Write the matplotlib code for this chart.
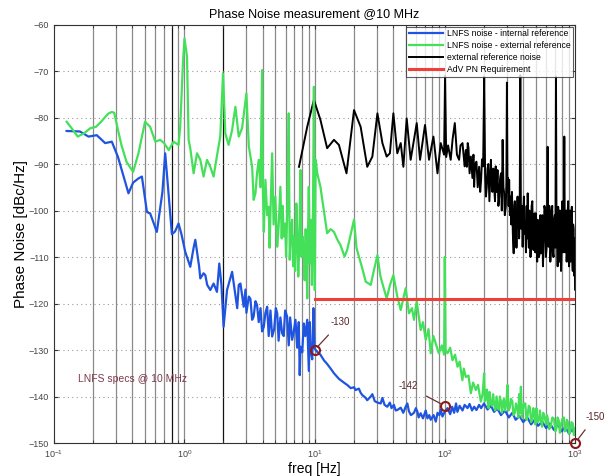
import numpy as np
import matplotlib
matplotlib.use("Agg")
import matplotlib.pyplot as plt
from matplotlib.ticker import LogLocator, LogFormatterSciNotation, MultipleLocator

plt.rcParams["font.family"] = ["Liberation Sans", "DejaVu Sans"]

# LNFS noise - internal reference (blue)
blue_f = [0.125, 0.158, 0.184, 0.213, 0.247, 0.278, 0.31, 0.345, 0.373, 0.405,
          0.445, 0.473, 0.517, 0.531, 0.547, 0.616, 0.68, 0.714, 0.76, 0.804,
          0.85, 0.904, 0.95, 1.018, 1.08, 1.112, 1.18, 1.216, 1.3, 1.328,
          1.407, 1.451, 1.5, 1.585, 1.68, 1.783, 1.857, 1.93, 2.005, 2.13,
          2.33, 2.47, 2.55, 2.62, 2.7, 2.86, 2.95, 3.0, 3.13, 3.22,
          3.32, 3.41, 3.52, 3.62, 3.73, 3.85, 3.96, 4.08, 4.2, 4.33,
          4.45, 4.59, 4.73, 4.9, 5.05, 5.17, 5.3, 5.47, 5.64, 5.8,
          5.95, 6.16, 6.34, 6.5, 6.73, 6.93, 7.14, 7.36, 7.57, 7.7,
          7.8, 8.05, 8.27, 8.5, 8.79, 9.04, 9.2, 9.31, 9.6, 9.8,
          10.0, 10.2, 10.5, 11.1, 11.8, 12.5, 13.3, 14.1, 15.4, 16.8,
          17.8, 19.0, 20.1, 20.7, 21.9, 22.6, 23.3, 24.7, 25.4, 27.0,
          27.8, 29.0, 30.4, 32.2, 33.2, 34.5, 36.2, 37.9, 39.0, 40.7,
          42.0, 43.2, 45.9, 48.0, 50.1, 51.6, 53.1, 55.0, 58.0, 60.0,
          61.7, 63.0, 65.3, 68.0, 71.4, 73.6, 76.0, 78.0, 82.0, 85.3,
          88.0, 91.0, 93.1, 96.0, 100.0, 104.9, 110.0, 114.0, 118.0, 122.0,
          125.0, 130.0, 136.8, 142.0, 149.6, 155.0, 162.0, 168.0, 175.0, 183.5,
          190.0, 200.0, 213.0, 226.0, 239.0, 254.0, 270.0, 290.0, 310.0, 330.0,
          350.0, 375.0, 400.0, 430.0, 460.0, 490.0, 520.0, 560.0, 600.0, 640.0,
          690.0, 740.0, 790.0, 840.0, 900.0, 950.0, 1000.0]
blue_db = [-82.9, -83.0, -84.1, -83.8, -85.5, -85.2, -88.5, -93.0, -96.3, -94.0,
           -93.1, -92.7, -100.3, -100.5, -100.6, -104.6, -96.0, -87.7, -97.0, -105.1,
           -104.5, -102.8, -105.0, -108.9, -111.0, -112.1, -108.0, -106.3, -112.0, -114.6,
           -113.5, -113.9, -116.0, -117.1, -115.7, -117.5, -111.4, -116.0, -125.0, -117.1,
           -113.2, -118.2, -121.0, -116.0, -115.7, -120.7, -117.0, -122.0, -118.5, -119.0,
           -123.5, -122.8, -119.5, -120.3, -124.0, -121.0, -126.0, -125.0, -122.0, -120.7,
           -127.0, -121.5, -127.1, -125.5, -121.0, -122.1, -128.0, -123.0, -126.4, -127.0,
           -121.5, -122.8, -129.0, -123.0, -127.8, -126.0, -123.5, -129.5, -124.0, -135.4,
           -129.3, -130.5, -124.3, -127.0, -123.5, -134.5, -124.0, -130.0, -132.0, -121.0,
           -129.6, -130.0, -130.4, -131.0, -132.2, -133.0, -134.0, -135.0, -136.2, -137.0,
           -137.5, -138.2, -138.0, -138.6, -138.3, -139.2, -139.7, -140.3, -140.8, -140.0,
           -139.5, -141.0, -141.3, -141.5, -140.3, -141.8, -142.2, -141.3, -142.5, -141.8,
           -143.0, -142.9, -142.4, -143.5, -142.2, -141.5, -143.2, -144.0, -143.5, -142.5,
           -143.3, -144.5, -143.6, -144.7, -143.0, -144.7, -144.0, -145.0, -144.0, -145.4,
           -143.5, -144.0, -142.8, -144.3, -143.3, -142.5, -143.8, -142.2, -143.5, -141.5,
           -143.3, -142.0, -143.0, -141.8, -142.5, -141.6, -143.0, -142.2, -142.9, -141.8,
           -142.5, -141.5, -142.8, -142.0, -143.3, -142.6, -144.0, -143.0, -144.5, -143.5,
           -145.0, -144.2, -145.5, -144.5, -146.0, -145.0, -146.3, -145.4, -146.8, -145.8,
           -147.2, -146.0, -147.5, -146.5, -148.0, -147.0, -148.2]

# LNFS noise - external reference (green)
green_f = [0.125, 0.14, 0.152, 0.17, 0.19, 0.21, 0.23, 0.26, 0.278, 0.29,
           0.31, 0.33, 0.36, 0.405, 0.445, 0.5, 0.547, 0.6, 0.653, 0.7,
           0.76, 0.828, 0.904, 0.931, 0.977, 1.004, 1.05, 1.08, 1.112, 1.18,
           1.253, 1.328, 1.407, 1.495, 1.585, 1.68, 1.762, 1.89, 1.985, 2.066,
           2.19, 2.33, 2.47, 2.62, 2.78, 3.0, 3.13, 3.32, 3.41, 3.52,
           3.62, 3.73, 3.85, 3.96, 4.02, 4.08, 4.2, 4.33, 4.45, 4.52,
           4.59, 4.73, 4.85, 5.0, 5.17, 5.3, 5.47, 5.6, 5.7, 5.8,
           5.95, 6.05, 6.2, 6.34, 6.45, 6.6, 6.73, 6.85, 6.93, 7.1,
           7.25, 7.36, 7.5, 7.65, 7.8, 7.95, 8.1, 8.27, 8.4, 8.55,
           8.7, 8.79, 8.9, 9.04, 9.2, 9.4, 9.55, 9.7, 9.89, 10.05,
           10.2, 10.5, 11.1, 11.8, 12.5, 13.3, 14.1, 15.0, 15.8, 17.0,
           17.8, 20.1, 21.0, 21.9, 23.3, 24.7, 27.0, 28.5, 30.4, 32.0,
           33.2, 35.8, 38.0, 40.3, 43.2, 45.9, 48.0, 50.1, 53.1, 56.0,
           58.0, 60.9, 65.3, 68.0, 71.4, 75.0, 78.0, 81.8, 85.3, 90.0,
           95.0, 98.8, 100.0, 101.5, 104.9, 110.0, 114.6, 120.0, 125.2, 130.0,
           136.5, 140.0, 145.0, 152.0, 158.5, 165.0, 173.0, 180.0, 189.0, 195.0,
           200.6, 203.0, 206.0, 210.0, 213.0, 217.0, 220.0, 225.0, 230.0, 235.0,
           239.0, 244.0, 250.0, 255.0, 260.0, 265.0, 270.0, 275.0, 280.0, 285.0,
           290.0, 297.0, 303.0, 308.0, 315.0, 322.0, 330.0, 337.0, 345.0, 352.0,
           362.0, 367.0, 372.0, 378.0, 384.0, 390.0, 396.0, 405.0, 415.0, 424.0,
           433.0, 441.0, 450.0, 460.0, 470.0, 478.0, 487.0, 496.0, 505.0, 517.0,
           530.0, 538.0, 547.0, 558.0, 570.0, 585.0, 600.0, 608.0, 616.0, 633.0,
           650.0, 670.0, 690.0, 705.0, 720.0, 735.0, 750.0, 765.0, 780.0, 800.0,
           820.0, 835.0, 850.0, 865.0, 879.0, 900.0, 920.0, 940.0, 960.0, 980.0,
           1000.0]
green_db = [-80.9, -82.7, -84.1, -83.4, -82.3, -82.0, -80.9, -79.2, -78.8, -79.0,
            -82.7, -86.0, -89.5, -91.7, -87.7, -80.9, -82.0, -85.2, -84.8, -85.5,
            -87.0, -85.2, -85.9, -82.0, -68.3, -63.0, -66.9, -84.8, -86.6, -92.0,
            -87.7, -89.1, -92.7, -89.1, -90.6, -92.7, -89.1, -84.1, -70.5, -83.4,
            -85.9, -82.7, -77.7, -84.1, -82.3, -74.8, -86.2, -90.6, -97.7, -96.3,
            -92.0, -89.1, -95.0, -69.8, -96.0, -104.6, -93.4, -101.0, -99.2, -108.0,
            -100.6, -87.7, -103.0, -97.0, -107.8, -103.5, -94.9, -106.0, -99.0, -105.6,
            -102.8, -110.0, -98.0, -79.1, -110.6, -104.0, -102.0, -112.0, -105.6, -113.0,
            -98.5, -104.0, -114.2, -107.0, -91.3, -110.0, -105.6, -108.5, -115.0, -104.0,
            -112.0, -118.9, -106.0, -94.9, -111.4, -102.0, -116.0, -105.0, -73.4, -117.1,
            -89.1, -92.0, -94.9, -100.0, -104.9, -104.0, -104.6, -106.3, -107.4, -109.9,
            -108.5, -102.0, -108.0, -109.9, -112.5, -115.3, -116.0, -113.0, -109.6, -114.0,
            -115.7, -118.9, -116.0, -113.9, -118.5, -121.4, -119.0, -116.7, -122.1, -121.0,
            -123.5, -119.6, -125.7, -124.0, -127.8, -125.5, -130.7, -127.0, -128.6, -130.7,
            -129.0, -131.0, -110.0, -130.0, -130.7, -129.5, -132.2, -131.0, -133.6, -132.5,
            -136.5, -134.0, -135.8, -135.5, -139.3, -137.0, -138.6, -137.5, -141.1, -139.5,
            -135.0, -141.0, -140.5, -138.5, -140.8, -142.5, -139.0, -141.5, -142.0, -139.5,
            -141.5, -143.0, -140.0, -142.5, -142.8, -140.0, -141.2, -143.5, -141.0, -140.5,
            -143.0, -141.5, -137.5, -143.0, -142.5, -140.5, -141.0, -144.0, -143.5, -141.5,
            -142.9, -144.5, -139.5, -143.5, -137.9, -144.5, -143.0, -141.5, -141.5, -145.0,
            -144.0, -142.0, -142.3, -145.5, -144.5, -142.5, -144.0, -146.0, -142.5, -145.5,
            -145.0, -143.0, -145.1, -146.5, -143.5, -144.5, -146.0, -144.0, -144.5, -147.0,
            -146.5, -144.5, -144.8, -147.5, -146.8, -144.5, -145.2, -147.8, -146.1, -144.8,
            -144.5, -147.5, -147.0, -145.0, -145.4, -148.0, -147.5, -145.5, -145.8, -148.3,
            -146.8]

# external reference noise (black)
black_f = [7.6, 8.79, 9.89, 11.1, 12.5, 14.1, 15.4, 17.6, 20.1, 22.6,
           25.4, 27.8, 30.4, 33.2, 35.8, 37.9, 40.3, 43.2, 45.9, 48.1,
           51.0, 54.7, 60.9, 64.6, 70.5, 75.7, 81.8, 87.9, 93.1, 98.8,
           100.5, 102.5, 106.0, 111.0, 115.0, 119.4, 124.0, 128.8, 132.0, 136.8,
           142.0, 145.0, 147.6, 150.0, 152.0, 155.0, 158.5, 161.0, 163.0, 166.0,
           168.0, 171.0, 175.0, 179.0, 183.5, 187.0, 190.0, 193.0, 197.0, 200.6,
           204.0, 207.0, 210.0, 213.0, 216.0, 220.0, 226.0, 229.0, 232.0, 236.0,
           239.0, 243.0, 246.0, 250.0, 254.0, 258.0, 262.0, 266.0, 270.0, 274.0,
           278.0, 282.0, 285.0, 289.0, 294.0, 297.0, 300.0, 303.0, 306.0, 309.0,
           312.0, 316.0, 320.0, 324.0, 328.0, 333.0, 338.0, 342.0, 345.0, 349.0,
           352.0, 355.0, 358.0, 362.0, 365.0, 368.0, 372.0, 376.0, 380.0, 384.0,
           388.0, 392.0, 396.0, 400.0, 405.0, 410.0, 415.0, 420.0, 425.0, 429.0,
           433.0, 437.0, 442.0, 446.0, 450.0, 455.0, 459.0, 464.0, 470.0, 475.0,
           480.0, 485.0, 490.0, 495.0, 501.0, 506.0, 512.0, 517.0, 522.0, 528.0,
           535.0, 541.0, 547.0, 553.0, 560.0, 567.0, 575.0, 582.0, 590.0, 597.0,
           605.0, 610.0, 616.0, 622.0, 628.0, 634.0, 640.0, 646.0, 653.0, 660.0,
           668.0, 676.0, 684.0, 692.0, 700.0, 707.0, 714.0, 721.0, 728.0, 735.0,
           742.0, 750.0, 757.0, 765.0, 772.0, 780.0, 788.0, 794.0, 800.0, 808.0,
           815.0, 821.0, 827.0, 834.0, 840.0, 848.0, 855.0, 862.0, 869.0, 877.0,
           885.0, 892.0, 900.0, 908.0, 915.0, 922.0, 930.0, 938.0, 945.0, 952.0,
           960.0, 967.0, 975.0, 982.0, 990.0, 995.0, 1000.0]
black_db = [-90.6, -82.0, -76.2, -80.5, -86.6, -84.8, -85.9, -92.0, -78.4, -82.0,
            -90.6, -88.4, -79.1, -85.5, -88.4, -87.7, -79.1, -87.7, -85.5, -90.6,
            -80.2, -89.1, -81.2, -89.1, -81.6, -89.1, -84.1, -92.0, -85.5, -88.0,
            -71.0, -88.5, -86.0, -89.1, -84.5, -81.2, -88.0, -89.1, -86.0, -85.5,
            -90.5, -87.0, -90.6, -85.5, -86.5, -92.0, -88.4, -91.0, -93.0, -88.0,
            -94.9, -90.0, -89.5, -95.0, -90.6, -96.0, -93.5, -89.0, -90.5, -71.2,
            -92.0, -97.0, -95.0, -91.0, -90.0, -98.0, -89.1, -94.0, -96.0, -91.0,
            -94.9, -98.0, -90.5, -96.0, -91.3, -99.0, -97.0, -93.0, -92.0, -100.0,
            -84.8, -95.0, -96.0, -101.0, -99.2, -94.0, -72.5, -96.0, -93.0, -99.0,
            -93.4, -101.0, -97.0, -103.0, -96.0, -105.0, -109.2, -99.0, -98.0, -106.0,
            -101.0, -108.0, -102.0, -97.0, -104.0, -98.0, -106.0, -100.0, -70.9, -101.0,
            -104.0, -99.0, -107.8, -101.0, -97.0, -105.0, -103.0, -109.0, -99.0, -106.0,
            -96.3, -104.0, -108.0, -100.0, -101.0, -110.0, -106.3, -99.0, -98.0, -107.0,
            -108.5, -101.0, -100.6, -109.0, -100.6, -106.0, -111.0, -102.0, -103.0, -110.0,
            -109.2, -101.0, -109.2, -104.0, -101.0, -112.0, -106.0, -99.0, -100.0, -110.0,
            -108.0, -100.0, -86.3, -104.0, -107.8, -99.0, -100.0, -111.0, -107.8, -101.0,
            -99.0, -109.0, -110.0, -102.0, -101.0, -108.0, -71.2, -106.0, -104.0, -112.0,
            -99.2, -106.0, -111.0, -100.0, -101.0, -113.0, -108.0, -101.0, -98.0, -109.0,
            -106.0, -101.0, -84.1, -104.0, -109.0, -102.0, -100.0, -111.0, -107.8, -101.0,
            -98.0, -110.0, -112.0, -104.0, -100.0, -111.0, -108.0, -101.0, -99.2, -110.0,
            -113.0, -103.0, -104.0, -114.0, -110.6, -106.0, -117.0]

# AdV PN Requirement (red)
req_f = [10.0, 1000.0]
req_db = [-119.0, -119.0]

# marked spec points and where their labels sit
spec_f = [10.0, 100.0, 1000.0]
spec_db = [-130.0, -142.0, -150.0]
spec_labels = ["-130", "-142", "-150"]
label_f = [15.8, 52.0, 1430.0]
label_db = [-124.0, -137.8, -144.3]

fig = plt.figure(figsize=(6.08, 4.76), dpi=100)
ax = fig.add_axes([0.0888, 0.0693, 0.857, 0.8792])

ax.plot(blue_f, blue_db, color="#1f54e0", lw=1.6, label="LNFS noise - internal reference", zorder=3)
ax.plot(green_f, green_db, color="#45e05a", lw=1.6, label="LNFS noise - external reference", zorder=4)
ax.plot(black_f, black_db, color="black", lw=1.4, label="external reference noise", zorder=3)
ax.plot(req_f, req_db, color="#ee4036", lw=2.2, label="AdV PN Requirement", zorder=5)

ax.set_xscale("log")
ax.set_xlim(0.1, 1000)
ax.set_ylim(-150, -60)
ax.yaxis.set_major_locator(MultipleLocator(10))
ax.xaxis.set_major_locator(LogLocator(base=10, numticks=10))
ax.xaxis.set_minor_locator(LogLocator(base=10, subs=np.arange(2, 10), numticks=20))
ax.xaxis.set_major_formatter(LogFormatterSciNotation())

# vertical grid lines, horizontal dotted grid
for dec in [0.1, 1, 10, 100]:
    for s in range(1, 10):
        xv = dec * s
        if xv <= 0.1 or xv >= 1000:
            continue
        col = "#8a8a8a"
        if xv in (0.8, 2):
            col = "#111111"
        ax.axvline(xv, color=col, lw=0.9, zorder=1)
ax.grid(True, axis="y", which="major", linestyle=(0, (1, 3)), color="#999999", lw=0.8)

ax.tick_params(which="both", direction="in", top=True, right=True, labelsize=6.5,
               labelcolor="#444444", color="#333333")
ax.tick_params(which="major", length=3)
ax.tick_params(which="minor", length=2)
for sp in ax.spines.values():
    sp.set_color("#333333")
    sp.set_linewidth(0.8)

ax.set_title("Phase Noise measurement @10 MHz", fontsize=9, pad=5)
ax.set_xlabel("freq [Hz]", fontsize=10, labelpad=2)
ax.set_ylabel("Phase Noise [dBc/Hz]", fontsize=11)
ax.yaxis.set_label_coords(-0.05, 0.5)

ax.plot(spec_f, spec_db, linestyle="none", marker="o", ms=6.5, mfc="none",
        mec="#8b1a1a", mew=1.5, zorder=6, clip_on=False)
for x0, y0, lab, xt, yt in zip(spec_f, spec_db, spec_labels, label_f, label_db):
    ax.annotate(lab, xy=(x0, y0), xytext=(xt, yt), fontsize=7, color="#5a2424",
                ha="center", va="center", annotation_clip=False,
                arrowprops=dict(arrowstyle="-", color="#6b3030", lw=0.9,
                                shrinkA=5, shrinkB=3))

ax.text(0.4, -136.2, "LNFS specs @ 10 MHz", fontsize=7.5, color="#7e3a4c",
        ha="center", va="center")

leg = ax.legend(loc="upper right", bbox_to_anchor=(1.0, 1.0), fontsize=6.2,
                frameon=True, fancybox=False, borderaxespad=0.25,
                handlelength=4.0, handletextpad=0.4, labelspacing=0.35,
                borderpad=0.3)
leg.get_frame().set_edgecolor("#333333")
leg.get_frame().set_linewidth(0.8)
leg.set_zorder(10)

fig.savefig("out.png", dpi=100)
